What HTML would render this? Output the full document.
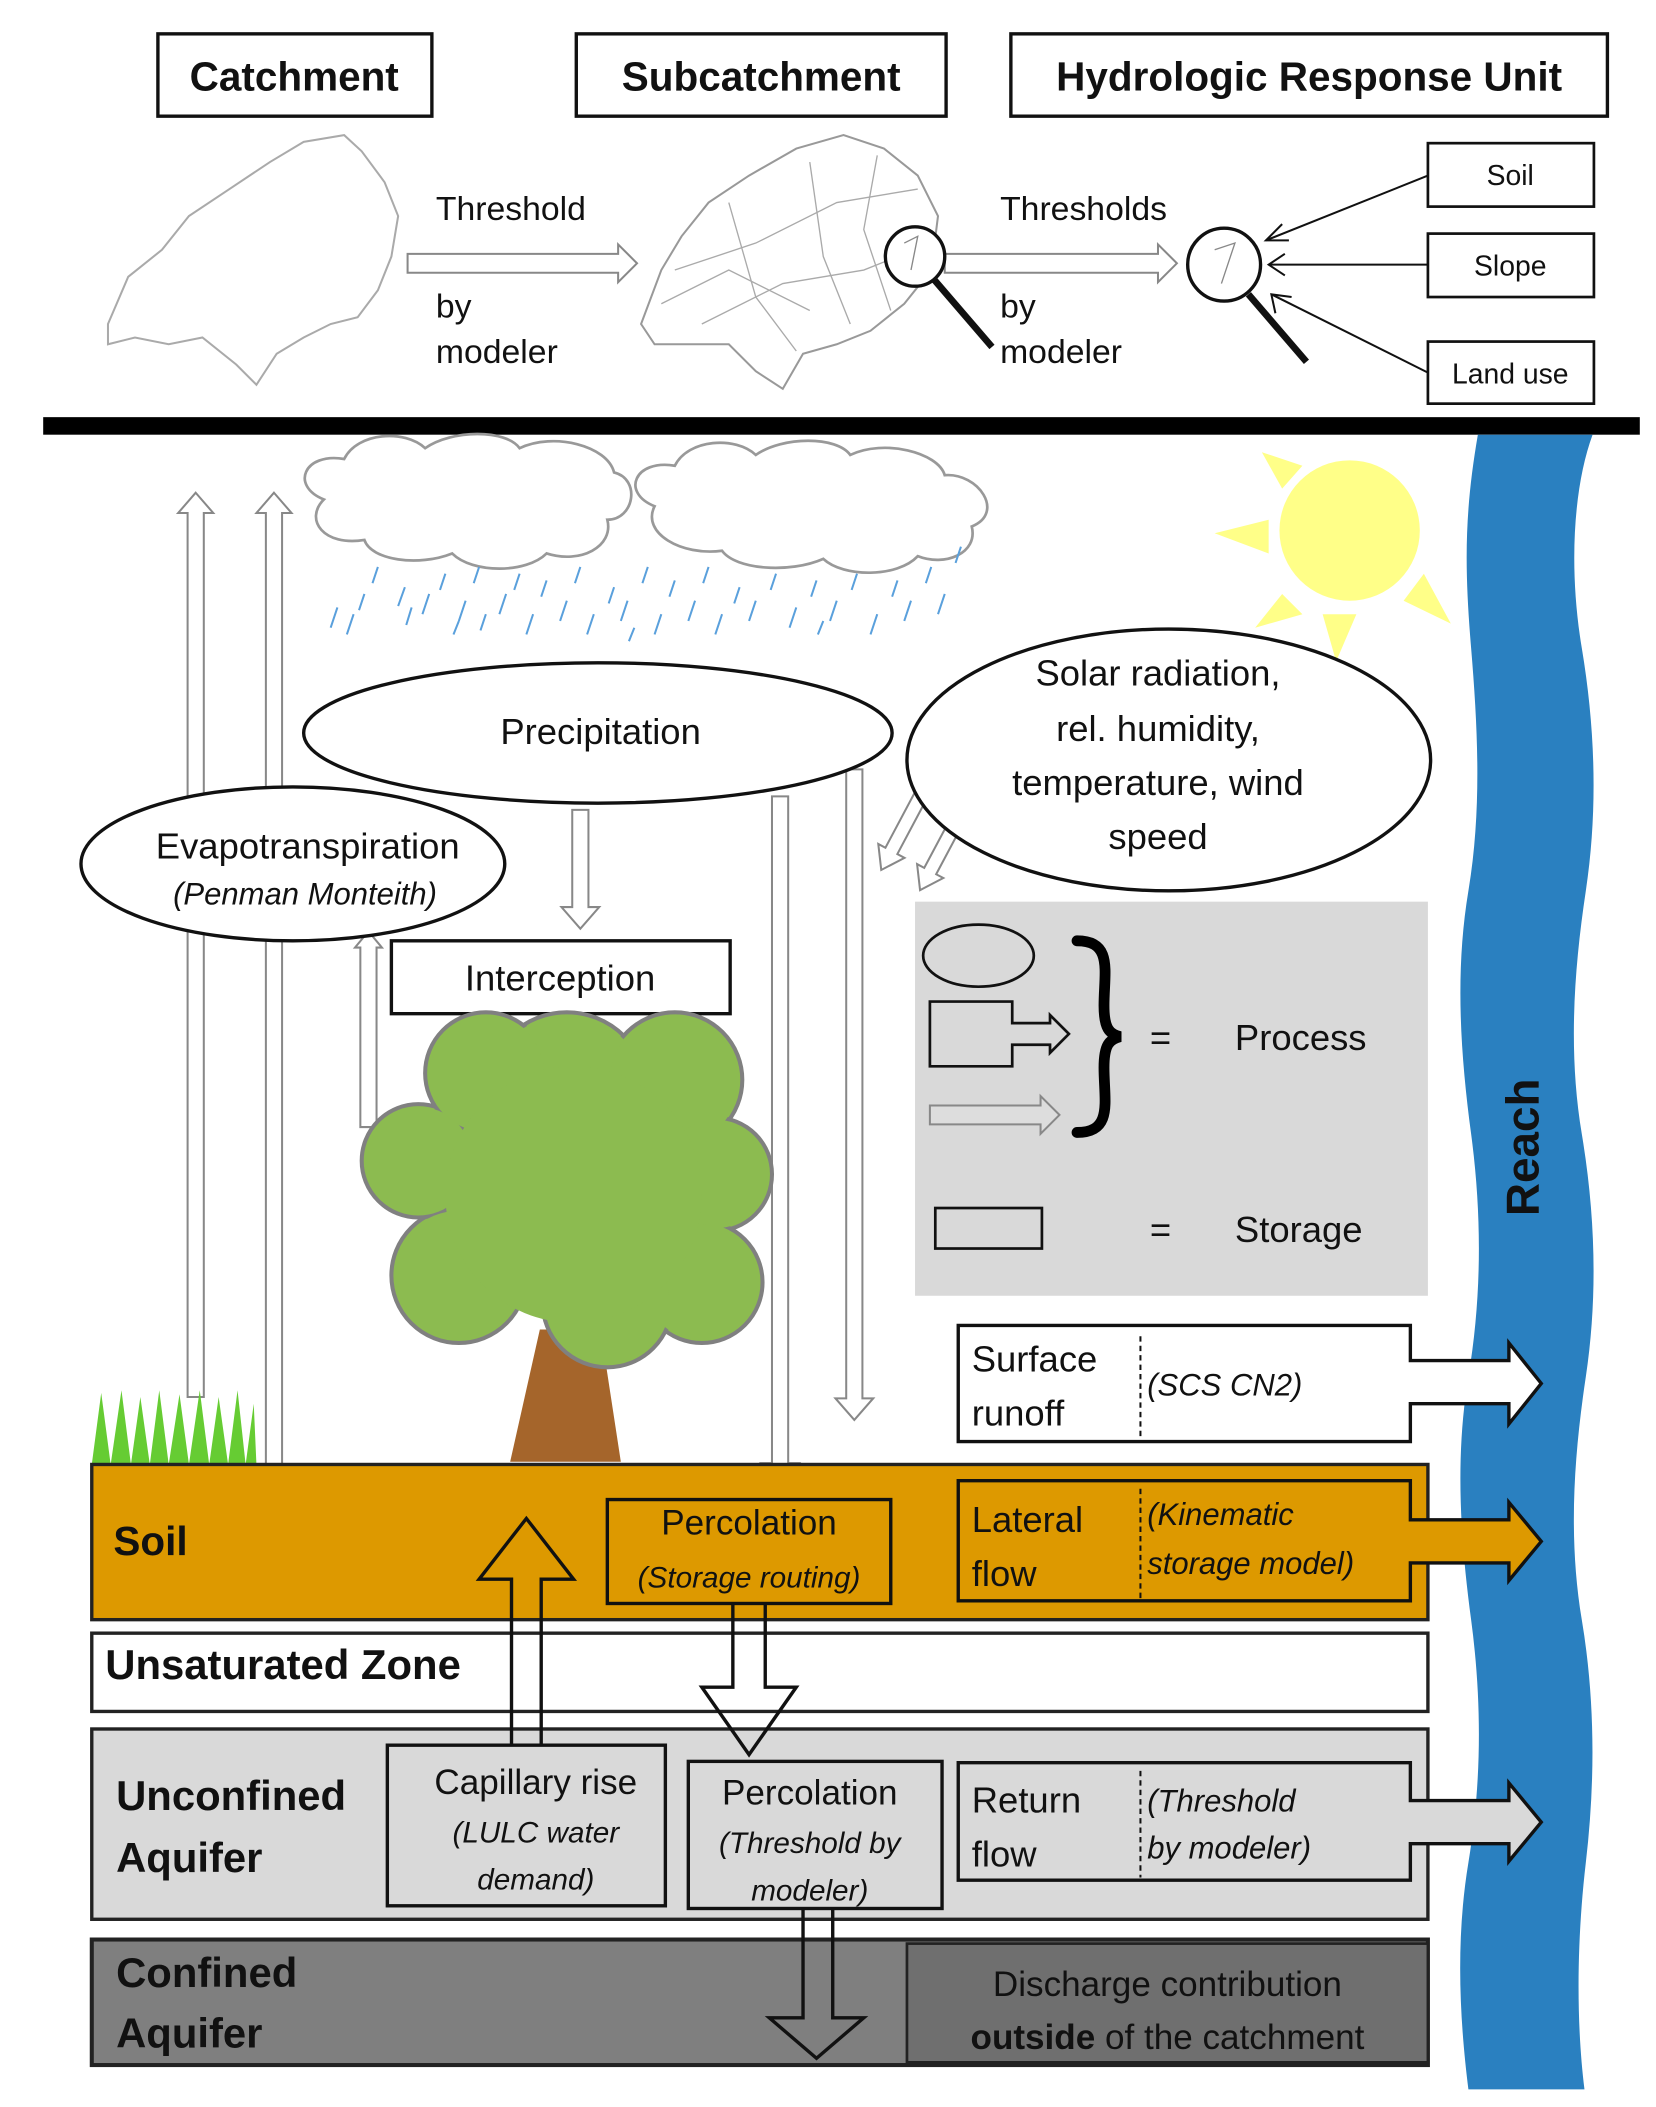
<!DOCTYPE html>
<html><head><meta charset="utf-8"><style>
html,body{margin:0;padding:0;background:#fff;}
svg{display:block;}
text{font-family:"Liberation Sans",sans-serif;fill:#111;}
.b{font-weight:bold;}
.i{font-style:italic;}
</style></head><body>
<svg width="1656" height="2107" viewBox="0 0 1227 1561" xmlns="http://www.w3.org/2000/svg">
<g fill="#fff" stroke="#111" stroke-width="2.5">
<rect x="117" y="25" width="203" height="61"/>
<rect x="427" y="25" width="274" height="61"/>
<rect x="749" y="25" width="442" height="61"/>
</g>
<g class="b" font-size="30" text-anchor="middle">
<text x="218" y="67" class="b">Catchment</text>
<text x="564" y="67" class="b">Subcatchment</text>
<text x="970" y="67" class="b">Hydrologic Response Unit</text>
</g>
<path d="M80,240 L95,205 L120,185 L140,160 L170,140 L200,120 L225,105 L255,100 L268,112 L285,135 L295,160 L290,190 L280,215 L265,235 L245,240 L225,250 L205,262 L190,285 L175,270 L150,250 L125,255 L100,250 L80,255 Z" fill="none" stroke="#aaa" stroke-width="1.5"/>
<path d="M475,240 L490,200 L505,175 L525,150 L555,130 L590,110 L625,100 L655,110 L680,130 L695,160 L690,200 L670,225 L645,245 L620,255 L595,262 L580,288 L560,275 L540,255 L510,255 L485,255 Z" fill="none" stroke="#999" stroke-width="1.5"/>
<g stroke="#aaa" stroke-width="1" fill="none">
<path d="M500,200 L560,180 L620,150 L680,140"/><path d="M520,240 L580,210 L640,200 L690,180"/><path d="M540,150 L560,220 L590,260"/><path d="M600,120 L610,190 L630,240"/><path d="M650,115 L640,170 L660,230"/><path d="M490,225 L540,200 L600,230"/>
</g>
<g fill="#fff" stroke="#888" stroke-width="1.5">
<polygon points="302,188 458,188 458,181 472,195 458,209 458,202 302,202"/>
<polygon points="700,188 858,188 858,181 872,195 858,209 858,202 700,202"/>
</g>
<g font-size="25">
<text x="323" y="163">Threshold</text><text x="323" y="235">by</text><text x="323" y="269">modeler</text>
<text x="741" y="163">Thresholds</text><text x="741" y="235">by</text><text x="741" y="269">modeler</text>
</g>
<circle cx="678" cy="190" r="22" fill="#fff" stroke="#111" stroke-width="2.5"/>
<line x1="692" y1="207" x2="735" y2="257" stroke="#111" stroke-width="5"/>
<circle cx="907" cy="196" r="27" fill="#fff" stroke="#111" stroke-width="2.5"/>
<path d="M670,180 L680,175 L675,200 M900,185 L915,180 L905,210" stroke="#888" fill="none"/>
<line x1="925" y1="218" x2="968" y2="268" stroke="#111" stroke-width="5"/>
<g fill="#fff" stroke="#111" stroke-width="2">
<rect x="1058" y="106" width="123" height="47"/><rect x="1058" y="173" width="123" height="47"/><rect x="1058" y="253" width="123" height="46"/>
</g>
<g font-size="21" text-anchor="middle"><text x="1119" y="137">Soil</text><text x="1119" y="204">Slope</text><text x="1119" y="284">Land use</text></g>
<g stroke="#111" stroke-width="1.5" fill="none">
<line x1="1058" y1="130" x2="938" y2="178"/><polyline points="950,166 938,178 955,178"/>
<line x1="1058" y1="196" x2="940" y2="196"/><polyline points="952,188 940,196 952,204"/>
<line x1="1058" y1="276" x2="942" y2="218"/><polyline points="945,232 942,218 957,220"/>
</g>
<rect x="32" y="309" width="1183" height="13" fill="#000"/>
<path d="M1095,322 C1085,380 1085,420 1090,480 S1098,600 1088,660 S1082,780 1090,840 S1098,960 1088,1020 S1082,1140 1090,1200 S1098,1320 1088,1380 S1082,1500 1088,1548 L1174,1548 C1168,1500 1168,1440 1175,1380 S1182,1260 1172,1200 S1166,1080 1175,1020 S1182,900 1172,840 S1166,720 1175,660 S1182,540 1172,480 S1166,360 1180,322 Z" fill="#2a80c0"/>
<text x="0" y="0" transform="translate(1140,850) rotate(-90)" text-anchor="middle" font-size="34" class="b" style="fill:#111">Reach</text>
<g fill="#ffff88">
<circle cx="1000" cy="393" r="52"/>
<polygon points="935,335 965,345 950,362"/>
<polygon points="900,395 940,385 940,410"/>
<polygon points="930,465 950,440 965,455"/>
<polygon points="990,490 980,455 1005,455"/>
<polygon points="1075,462 1040,445 1055,425"/>
</g>
<g fill="#fff" stroke="#999" stroke-width="2">
<path d="M240,370 C215,360 225,335 255,340 C265,320 300,318 315,332 C335,318 375,318 385,332 C410,320 450,330 455,350 C475,355 470,385 450,385 C455,405 430,418 405,410 C390,425 350,425 335,410 C310,420 275,415 270,400 C240,405 225,385 240,370 Z"/>
<path d="M485,375 C460,365 470,340 500,345 C510,325 545,323 560,337 C580,323 620,323 630,337 C655,325 695,335 700,352 C725,350 745,380 720,390 C725,410 700,420 680,412 C665,428 625,428 610,414 C585,425 545,422 535,408 C505,412 475,395 485,375 Z"/>
</g>
<g stroke="#5aa0dc" stroke-width="1.5">
<path d="M250,450 l-5,15 M262,455 l-5,15 M280,420 l-4,12 M300,435 l-5,14 M305,450 l-4,13 M318,440 l-5,15 M330,425 l-4,12 M345,445 l-5,15 M355,420 l-4,12 M360,455 l-4,12 M375,440 l-5,15 M385,425 l-4,12 M395,455 l-5,15 M405,430 l-4,12 M420,445 l-5,15 M430,420 l-4,12 M440,455 l-5,15 M455,435 l-4,12 M465,445 l-5,15 M480,420 l-4,12 M490,455 l-5,15 M500,430 l-4,12 M515,445 l-5,15 M525,420 l-4,12 M535,455 l-5,15 M548,435 l-4,12 M560,445 l-5,15 M575,425 l-4,12 M590,450 l-5,15 M605,430 l-4,12 M620,445 l-5,15 M635,425 l-4,12 M650,455 l-5,15 M665,430 l-4,12 M675,445 l-5,15 M690,420 l-4,12 M700,440 l-5,15 M712,405 l-4,12 M270,440 l-4,12 M340,460 l-4,10 M470,465 l-4,10 M610,460 l-4,10"/>
</g>
<g fill="#fff" stroke="#888" stroke-width="1.5">
<polygon points="145,365 158,380 151,380 151,1035 139,1035 139,380 132,380"/>
<polygon points="203,365 216,380 209,380 209,1108 197,1108 197,380 190,380"/>
<polygon points="424,600 436,600 436,672 444,672 430,688 416,672 424,672"/>
<polygon points="572,590 584,590 584,1084 592,1084 578,1100 564,1084 572,1084"/>
<polygon points="627,570 639,570 639,1036 647,1036 633,1052 619,1036 627,1036"/>
<polygon points="273,690 283,702 279,702 279,835 267,835 267,702 263,702"/>
<polygon transform="translate(683,588) rotate(28)" points="-5,0 5,0 5,48 11,48 0,64 -11,48 -5,48"/>
<polygon transform="translate(708,610) rotate(28)" points="-5,0 5,0 5,40 11,40 0,56 -11,40 -5,40"/>
</g>
<g fill="#fff" stroke="#111" stroke-width="2.5">
<ellipse cx="443" cy="543" rx="218" ry="52"/>
<ellipse cx="866" cy="563" rx="194" ry="97"/>
<ellipse cx="217" cy="640" rx="157" ry="57"/>
</g>
<g font-size="27" text-anchor="middle">
<text x="445" y="551">Precipitation</text>
<text x="858" y="508">Solar radiation,</text>
<text x="858" y="549">rel. humidity,</text>
<text x="858" y="589">temperature, wind</text>
<text x="858" y="629">speed</text>
<text x="228" y="636">Evapotranspiration</text>
<text x="226" y="670" class="i" font-size="23">(Penman Monteith)</text>
</g>
<rect x="290" y="697" width="251" height="54" fill="#fff" stroke="#111" stroke-width="2.5"/>
<text x="415" y="734" font-size="27" text-anchor="middle">Interception</text>
<polygon points="378,1083 460,1083 445,985 400,985" fill="#a5652b"/>
<g fill="#8cbb50" stroke="#808080" stroke-width="3">
<circle cx="420" cy="810" r="60"/><circle cx="500" cy="800" r="50"/><circle cx="530" cy="870" r="42"/><circle cx="520" cy="950" r="45"/><circle cx="450" cy="965" r="48"/><circle cx="340" cy="945" r="50"/><circle cx="310" cy="860" r="42"/><circle cx="360" cy="795" r="45"/>
</g>
<g fill="#8cbb50">
<circle cx="420" cy="810" r="58"/><circle cx="500" cy="800" r="48"/><circle cx="530" cy="870" r="40"/><circle cx="520" cy="950" r="43"/><circle cx="450" cy="965" r="46"/><circle cx="340" cy="945" r="48"/><circle cx="310" cy="860" r="40"/><circle cx="360" cy="795" r="43"/><circle cx="425" cy="885" r="95"/>
</g>
<rect x="678" y="668" width="380" height="292" fill="#d9d9d9"/>
<ellipse cx="725" cy="708" rx="41" ry="23" fill="none" stroke="#111" stroke-width="2"/>
<polygon points="689,742 750,742 750,758 778,758 778,752 792,766 778,780 778,774 750,774 750,790 689,790" fill="none" stroke="#111" stroke-width="2"/>
<polygon points="689,819 771,819 771,812 785,826 771,840 771,833 689,833" fill="#ddd" stroke="#888" stroke-width="1.5"/>
<path d="M798,697 C825,697 818,720 818,745 C818,762 822,766 830,768 C822,770 818,774 818,791 C818,816 825,839 798,839" fill="none" stroke="#000" stroke-width="8" stroke-linecap="round"/>
<rect x="693" y="895" width="79" height="30" fill="none" stroke="#111" stroke-width="2"/>
<g font-size="27"><text x="852" y="778">=</text><text x="915" y="778">Process</text><text x="852" y="920">=</text><text x="915" y="920">Storage</text></g>
<polygon points="68,1085 75,1032 82,1085 90,1030 97,1085 104,1035 111,1085 118,1030 125,1085 133,1033 140,1085 148,1030 155,1085 162,1035 169,1085 176,1030 182,1085 188,1040 190,1085" fill="#66cc33"/>
<rect x="68" y="1085" width="990" height="115" fill="#dd9900" stroke="#222" stroke-width="2.5"/>
<rect x="68" y="1210" width="990" height="58" fill="#fff" stroke="#222" stroke-width="2.5"/>
<rect x="68" y="1281" width="990" height="141" fill="#d9d9d9" stroke="#222" stroke-width="2.5"/>
<rect x="68" y="1437" width="990" height="93" fill="#7f7f7f" stroke="#222" stroke-width="3"/>
<rect x="672" y="1440" width="386" height="88" fill="#6f6f6f" stroke="#222" stroke-width="2"/>
<g stroke="#111" stroke-width="2.5">
<polygon fill="#fff" points="710,982 1045,982 1045,1008 1118,1008 1118,995 1142,1025 1118,1055 1118,1040 1045,1040 1045,1068 710,1068"/>
<polygon fill="#dd9900" points="710,1097 1045,1097 1045,1126 1118,1126 1118,1113 1142,1142 1118,1171 1118,1158 1045,1158 1045,1186 710,1186"/>
<polygon fill="#d9d9d9" points="710,1306 1045,1306 1045,1334 1118,1334 1118,1321 1142,1350 1118,1379 1118,1366 1045,1366 1045,1393 710,1393"/>
<rect x="450" y="1111" width="210" height="77" fill="#dd9900"/>
<rect x="287" y="1293" width="206" height="119" fill="#d9d9d9"/>
<rect x="510" y="1305" width="188" height="109" fill="#d9d9d9"/>
</g>
<g stroke="#111" stroke-width="1.5" stroke-dasharray="4,3">
<line x1="845" y1="990" x2="845" y2="1066"/><line x1="845" y1="1103" x2="845" y2="1184"/><line x1="845" y1="1312" x2="845" y2="1391"/>
</g>
<g fill="none" stroke="#111" stroke-width="2.5">
<polyline points="379,1293 379,1170 355,1170 390,1125 425,1170 401,1170 401,1293"/>
<polyline points="543,1188 543,1250 520,1250 555,1300 590,1250 567,1250 567,1188"/>
<polyline points="595,1414 595,1495 570,1495 605,1525 640,1495 617,1495 617,1414"/>
</g>
<g font-size="27">
<text x="720" y="1016">Surface</text><text x="720" y="1056">runoff</text>
<text x="850" y="1034" class="i" font-size="23">(SCS CN2)</text>
<text x="720" y="1135">Lateral</text><text x="720" y="1175">flow</text>
<text x="850" y="1130" class="i" font-size="23">(Kinematic</text><text x="850" y="1166" class="i" font-size="23">storage model)</text>
<text x="720" y="1343">Return</text><text x="720" y="1383">flow</text>
<text x="850" y="1342" class="i" font-size="23">(Threshold</text><text x="850" y="1377" class="i" font-size="23">by modeler)</text>
<text x="84" y="1152" class="b" font-size="30">Soil</text>
<text x="78" y="1244" class="b" font-size="31">Unsaturated  Zone</text>
<text x="86" y="1341" class="b" font-size="31">Unconfined</text><text x="86" y="1387" class="b" font-size="31">Aquifer</text>
<text x="86" y="1472" class="b" font-size="31">Confined</text><text x="86" y="1517" class="b" font-size="31">Aquifer</text>
</g>
<g font-size="26" text-anchor="middle">
<text x="555" y="1137">Percolation</text>
<text x="555" y="1176" class="i" font-size="22">(Storage routing)</text>
<text x="397" y="1329">Capillary rise</text>
<text x="397" y="1365" class="i" font-size="22">(LULC water</text>
<text x="397" y="1400" class="i" font-size="22">demand)</text>
<text x="600" y="1337">Percolation</text>
<text x="600" y="1373" class="i" font-size="22">(Threshold by</text>
<text x="600" y="1408" class="i" font-size="22">modeler)</text>
<text x="865" y="1479">Discharge contribution</text>
<text x="865" y="1518"><tspan class="b" style="font-weight:bold">outside</tspan> of the catchment</text>
</g>
</svg>
</body></html>
